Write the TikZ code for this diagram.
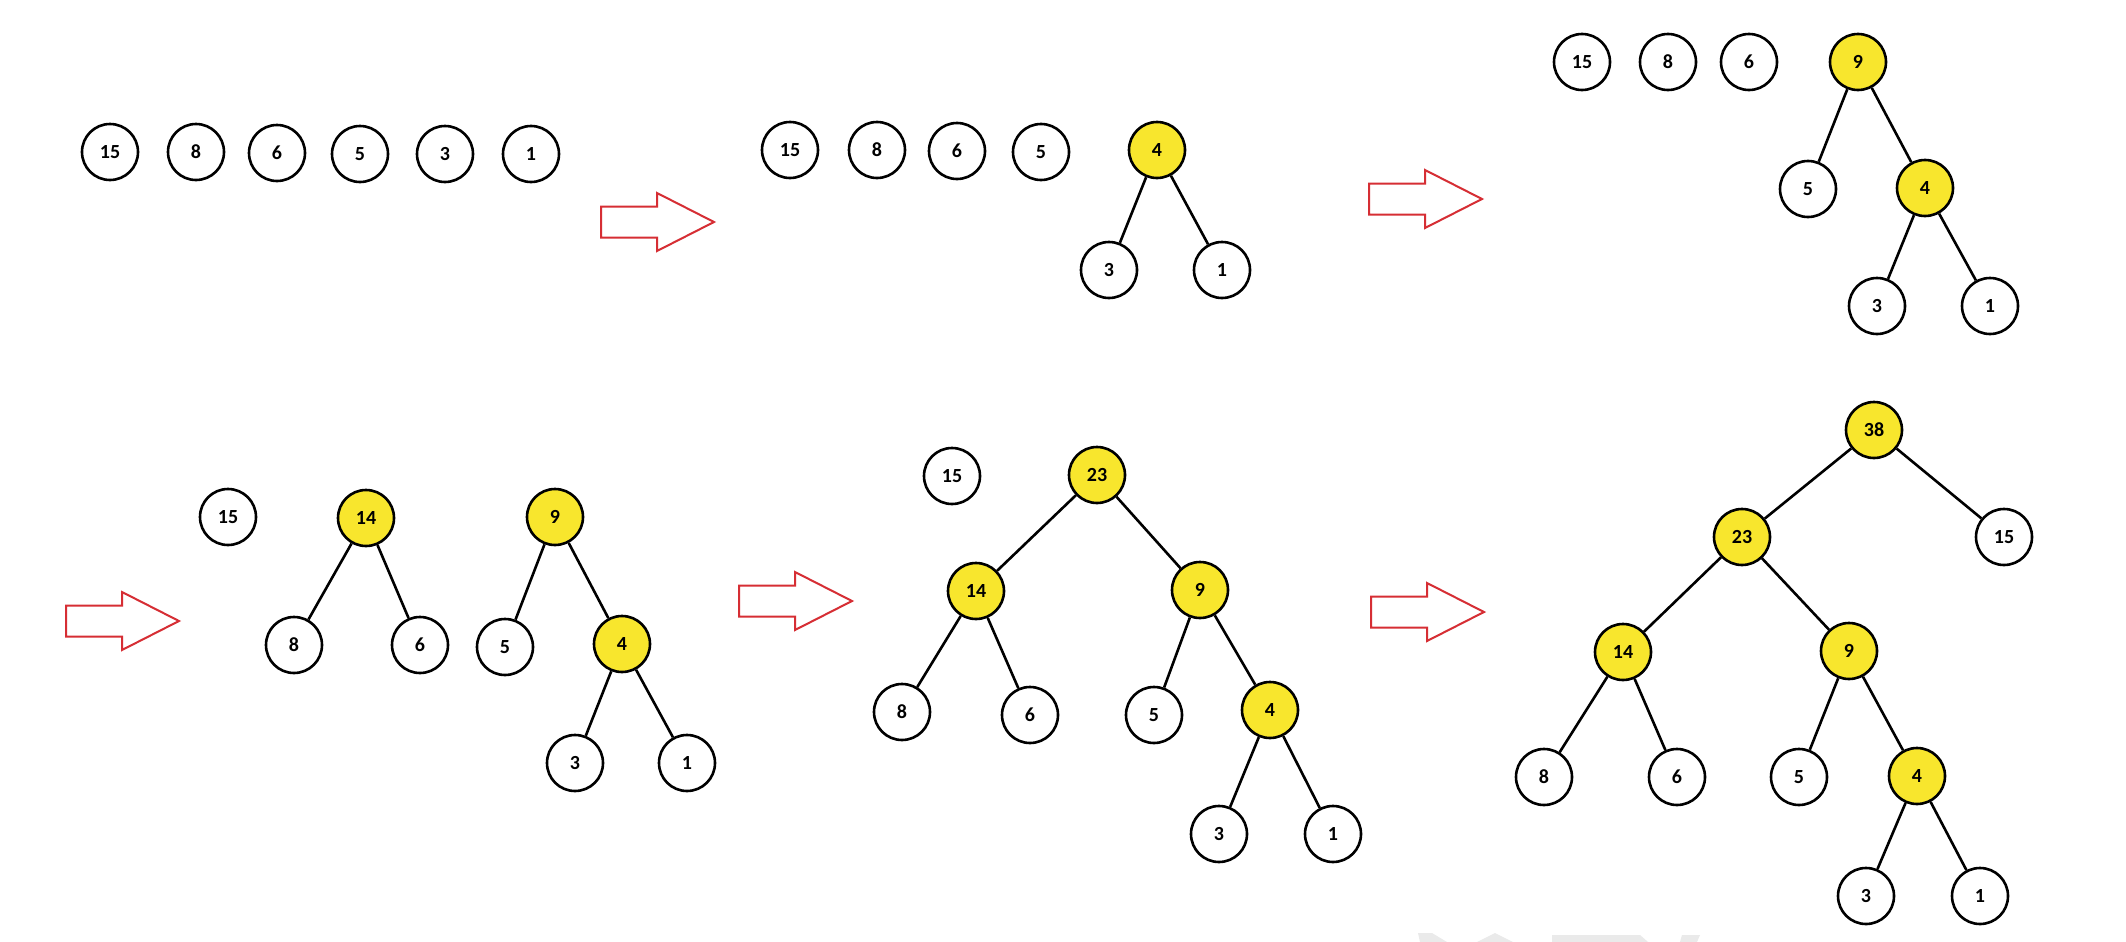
\documentclass[tikz,border=0pt]{standalone}
\usepackage{fontspec}
\setmainfont{Carlito}
\definecolor{sumyellow}{RGB}{248,230,45}
\definecolor{arrowred}{RGB}{214,46,52}
\definecolor{markgray}{RGB}{234,234,234}
\begin{document}
\begin{tikzpicture}[x=0.5pt,y=-0.5pt,
  key/.style={circle, draw=black, line width=1.3pt, minimum size=28pt, inner sep=0pt,
              fill=white, font=\fontsize{10}{12}\selectfont\bfseries},
  merged/.style={key, fill=sumyellow},
  link/.style={draw=black, line width=1.3pt},
  blockarrow/.pic={\draw[draw=arrowred, line width=1pt, fill=white, line join=miter]
     (0,-15.5) -- (56,-15.5) -- (56,-29) -- (113,0) -- (56,29) -- (56,15.5) -- (0,15.5) -- cycle;}
]
\useasboundingbox[fill=white] (0,0) rectangle (2126,942);

% faint logo fragments along the bottom edge
\fill[markgray] (1418,933) -- (1432,933) -- (1447,942) -- (1420,942) -- cycle;
\fill[markgray] (1495,933) -- (1513,942) -- (1477,942) -- cycle;
\fill[markgray] (1552,935) -- (1640,935) -- (1648,942) -- (1552,942) -- cycle;
\fill[markgray] (1682,935) -- (1700,935) -- (1697,942) -- (1680,942) -- cycle;

% step 1: six single-node trees
\node[key] (a15) at (110,152) {15};
\node[key] (a8)  at (196,152) {8};
\node[key] (a6)  at (277,153) {6};
\node[key] (a5)  at (360,154) {5};
\node[key] (a3)  at (445,154) {3};
\node[key] (a1)  at (531,154) {1};

\pic at (601,222) {blockarrow};

% step 2: 3 + 1 -> 4
\node[key] (b15) at (790,150) {15};
\node[key] (b8)  at (877,150) {8};
\node[key] (b6)  at (957,151) {6};
\node[key] (b5)  at (1041,152) {5};
\node[merged] (b4) at (1157,150) {4};
\node[key] (b3)  at (1109,270) {3};
\node[key] (b1)  at (1222,270) {1};
\draw[link] (b4) -- (b3);
\draw[link] (b4) -- (b1);

\pic at (1369,199) {blockarrow};

% step 3: 5 + 4 -> 9
\node[key] (c15) at (1582,62) {15};
\node[key] (c8)  at (1668,62) {8};
\node[key] (c6)  at (1749,62) {6};
\node[merged] (c9) at (1858,62) {9};
\node[key] (c5)  at (1808,189) {5};
\node[merged] (c4) at (1925,188) {4};
\node[key] (c3)  at (1877,306) {3};
\node[key] (c1)  at (1990,306) {1};
\draw[link] (c9) -- (c5);
\draw[link] (c9) -- (c4);
\draw[link] (c4) -- (c3);
\draw[link] (c4) -- (c1);

\pic at (66,621) {blockarrow};

% step 4: 8 + 6 -> 14
\node[key] (d15) at (228,517) {15};
\node[merged] (d14) at (366,518) {14};
\node[key] (d8)  at (294,645) {8};
\node[key] (d6)  at (420,645) {6};
\node[merged] (d9) at (555,517) {9};
\node[key] (d5)  at (505,647) {5};
\node[merged] (d4) at (622,644) {4};
\node[key] (d3)  at (575,763) {3};
\node[key] (d1)  at (687,763) {1};
\draw[link] (d14) -- (d8);
\draw[link] (d14) -- (d6);
\draw[link] (d9) -- (d5);
\draw[link] (d9) -- (d4);
\draw[link] (d4) -- (d3);
\draw[link] (d4) -- (d1);

\pic at (739,601) {blockarrow};

% step 5: 14 + 9 -> 23
\node[key] (e15) at (952,476) {15};
\node[merged] (e23) at (1097,475) {23};
\node[merged] (e14) at (976,591) {14};
\node[merged] (e9) at (1200,590) {9};
\node[key] (e8)  at (902,712) {8};
\node[key] (e6)  at (1030,715) {6};
\node[key] (e5)  at (1154,715) {5};
\node[merged] (e4) at (1270,710) {4};
\node[key] (e3)  at (1219,834) {3};
\node[key] (e1)  at (1333,834) {1};
\draw[link] (e23) -- (e14);
\draw[link] (e23) -- (e9);
\draw[link] (e14) -- (e8);
\draw[link] (e14) -- (e6);
\draw[link] (e9) -- (e5);
\draw[link] (e9) -- (e4);
\draw[link] (e4) -- (e3);
\draw[link] (e4) -- (e1);

\pic at (1371,612) {blockarrow};

% step 6: 23 + 15 -> 38
\node[merged] (f38) at (1874,430) {38};
\node[merged] (f23) at (1742,537) {23};
\node[key] (f15) at (2004,537) {15};
\node[merged] (f14) at (1623,652) {14};
\node[merged] (f9) at (1849,651) {9};
\node[key] (f8)  at (1544,777) {8};
\node[key] (f6)  at (1677,777) {6};
\node[key] (f5)  at (1799,777) {5};
\node[merged] (f4) at (1917,776) {4};
\node[key] (f3)  at (1866,896) {3};
\node[key] (f1)  at (1980,896) {1};
\draw[link] (f38) -- (f23);
\draw[link] (f38) -- (f15);
\draw[link] (f23) -- (f14);
\draw[link] (f23) -- (f9);
\draw[link] (f14) -- (f8);
\draw[link] (f14) -- (f6);
\draw[link] (f9) -- (f5);
\draw[link] (f9) -- (f4);
\draw[link] (f4) -- (f3);
\draw[link] (f4) -- (f1);
\end{tikzpicture}
\end{document}
